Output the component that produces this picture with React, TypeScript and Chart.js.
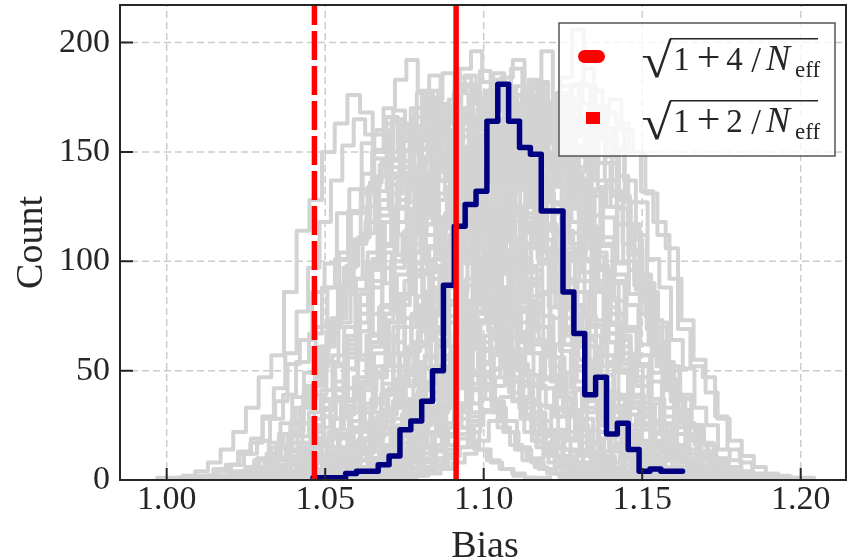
import React, { useEffect, useRef } from 'react';
import { Chart, registerables } from 'chart.js';

Chart.register(...registerables);

// ---------- data ----------
const xTickValues = [1.0, 1.05, 1.1, 1.15, 1.2];
const yTickValues = [0, 50, 100, 150, 200];
const xAxisRange = [0.98527, 1.21429];
const yAxisRange = [0, 217.2];
const xAxisTitle = 'Bias';
const yAxisTitle = 'Count';

const refDashed = 1.0466; // sqrt(1 + 4/N_eff)
const refSolid = 1.0913; // sqrt(1 + 2/N_eff)
const legendNumerators = ['4', '2'];

const navyStart = 1.04615;
const navyWidth = 0.003429;
const navyCounts = [1, 1, 1, 3, 4, 4, 7, 11, 23, 27, 36, 50, 89, 116, 126, 132, 164, 181, 164, 152, 149, 123, 123, 86, 67, 39, 47, 21, 26, 14, 4, 5, 4, 4];

const grayStarts = [
  0.997, 1.01, 1.018, 1.022, 1.025, 1.03, 1.033, 1.037, 1.04, 1.044, 1.048, 1.051, 1.055, 1.058, 1.062, 1.065, 1.075, 1.072, 1.0677, 1.07,
  1.028, 1.046, 1.015, 1.06, 1.02, 1.027, 1.038, 1.042, 1.05, 1.053, 1.057, 1.066, 1.07, 1.034, 1.005, 1.061,
  1.012, 1.024, 1.031, 1.036, 1.041, 1.045, 1.049, 1.052, 1.056, 1.059, 1.063, 1.068, 1.071, 1.064, 1.003, 1.016, 1.029, 1.043, 1.047, 1.054, 1.062, 1.074, 1.033, 1.058,
  1.019, 1.026, 1.039, 1.044, 1.05, 1.057, 1.008, 1.021, 1.035, 1.053, 1.06, 1.046, 1.03, 1.067, 1.014, 1.041,
];
const grayWidths = [
  0.004, 0.0037, 0.0036, 0.0039, 0.0035, 0.0038, 0.0036, 0.004, 0.0035, 0.0037, 0.0039, 0.0036, 0.0038, 0.0035, 0.004, 0.0037, 0.0038, 0.0039, 0.0039, 0.0036,
  0.0036, 0.0038, 0.004, 0.0036, 0.0038, 0.0041, 0.0035, 0.0039, 0.0037, 0.004, 0.0036, 0.0038, 0.0036, 0.0042, 0.0036, 0.004,
  0.0039, 0.0036, 0.004, 0.0037, 0.0034, 0.0041, 0.0036, 0.0039, 0.0035, 0.0038, 0.0036, 0.004, 0.0035, 0.0038, 0.0039, 0.0037, 0.0039, 0.0036, 0.004, 0.0037, 0.0036, 0.0037, 0.0035, 0.0041,
  0.0037, 0.0039, 0.0036, 0.004, 0.0035, 0.0038, 0.0041, 0.0035, 0.0039, 0.0036, 0.0037, 0.0036, 0.0037, 0.0035, 0.0038, 0.0038,
];
const grayCounts = [
  [1, 1, 2, 4, 8, 14, 22, 33, 47, 57, 86, 114, 128, 150, 163, 176, 168, 147, 140, 112, 96, 68, 52, 35, 24, 14, 9, 5, 3, 1, 1],
  [1, 2, 2, 4, 6, 10, 17, 26, 38, 49, 70, 88, 104, 122, 140, 158, 166, 151, 160, 136, 118, 102, 80, 60, 48, 31, 22, 14, 9, 5, 3, 2, 1],
  [1, 1, 3, 5, 9, 15, 22, 36, 50, 67, 88, 110, 131, 150, 170, 183, 192, 178, 185, 160, 141, 122, 98, 76, 57, 40, 28, 18, 11, 6, 4, 2, 1],
  [1, 2, 4, 6, 11, 17, 25, 37, 52, 66, 85, 101, 118, 136, 150, 156, 149, 143, 130, 112, 96, 78, 60, 45, 31, 22, 14, 8, 5, 3, 1],
  [1, 2, 3, 6, 9, 14, 22, 33, 45, 62, 80, 99, 121, 140, 158, 166, 175, 170, 160, 149, 128, 112, 88, 70, 51, 37, 25, 16, 10, 6, 3, 2, 1],
  [1, 2, 4, 7, 12, 19, 28, 42, 57, 76, 97, 118, 140, 158, 174, 186, 177, 180, 162, 146, 124, 102, 81, 62, 45, 31, 20, 13, 7, 4, 2, 1],
  [1, 1, 3, 5, 8, 13, 20, 31, 44, 58, 76, 94, 112, 131, 149, 160, 168, 163, 155, 139, 120, 103, 82, 64, 47, 33, 22, 14, 8, 5, 3, 1],
  [1, 3, 5, 9, 15, 23, 35, 49, 66, 85, 104, 124, 141, 153, 160, 152, 146, 128, 110, 90, 70, 52, 37, 25, 16, 10, 6, 3, 2, 1],
  [1, 2, 3, 6, 10, 16, 25, 37, 52, 70, 91, 113, 136, 156, 174, 188, 196, 182, 186, 168, 147, 125, 101, 79, 59, 42, 28, 18, 11, 6, 3, 2, 1],
  [1, 2, 4, 7, 12, 19, 29, 42, 58, 76, 96, 116, 134, 152, 165, 172, 160, 164, 148, 130, 110, 89, 70, 52, 37, 25, 16, 10, 6, 3, 2, 1],
  [1, 2, 5, 9, 15, 24, 36, 51, 68, 88, 108, 127, 145, 158, 165, 157, 150, 133, 114, 94, 74, 55, 39, 27, 17, 10, 6, 3, 2, 1],
  [1, 2, 3, 6, 10, 16, 25, 37, 52, 70, 90, 112, 133, 152, 170, 181, 188, 176, 172, 155, 134, 113, 91, 71, 52, 37, 25, 16, 10, 5, 3, 1],
  [1, 2, 4, 8, 13, 20, 31, 45, 61, 80, 101, 121, 141, 158, 170, 176, 166, 168, 150, 130, 108, 87, 67, 49, 35, 23, 15, 9, 5, 3, 1],
  [1, 1, 3, 5, 9, 14, 22, 32, 45, 61, 79, 98, 118, 136, 152, 164, 170, 161, 158, 142, 124, 106, 86, 67, 50, 36, 25, 16, 10, 6, 3, 2, 1],
  [1, 3, 6, 10, 17, 26, 38, 53, 70, 89, 108, 125, 140, 151, 155, 147, 139, 121, 102, 83, 64, 47, 33, 22, 14, 8, 5, 3, 1],
  [1, 2, 3, 5, 9, 14, 21, 31, 44, 59, 77, 97, 118, 140, 158, 172, 184, 206, 180, 170, 150, 128, 105, 83, 63, 46, 32, 21, 13, 8, 4, 2, 1],
  [1, 2, 3, 5, 8, 12, 18, 27, 38, 52, 68, 86, 105, 124, 141, 155, 166, 174, 160, 150, 131, 112, 92, 73, 55, 40, 28, 18, 11, 6, 3, 2, 1],
  [1, 2, 4, 7, 12, 19, 29, 42, 58, 77, 97, 117, 135, 150, 161, 165, 158, 148, 130, 110, 90, 70, 52, 37, 25, 16, 10, 6, 3, 2, 1],
  [1, 1, 2, 4, 6, 10, 15, 22, 31, 43, 57, 72, 89, 106, 122, 138, 151, 160, 168, 163, 150, 132, 118, 106, 69, 52, 47, 29, 14, 8, 3, 2, 1, 1, 1],
  [1, 2, 3, 6, 10, 16, 24, 35, 49, 66, 86, 107, 128, 148, 165, 176, 180, 172, 162, 145, 124, 103, 82, 62, 45, 31, 20, 13, 7, 4, 2, 1],
  [1, 2, 4, 7, 12, 19, 29, 42, 58, 76, 97, 118, 138, 156, 170, 178, 168, 171, 152, 132, 110, 88, 68, 50, 35, 23, 15, 9, 5, 3, 1],
  [1, 2, 4, 7, 12, 20, 30, 44, 61, 80, 101, 122, 142, 160, 174, 183, 171, 176, 156, 134, 112, 90, 69, 51, 36, 24, 15, 9, 5, 3, 1],
  [1, 2, 3, 6, 10, 16, 25, 37, 52, 70, 89, 108, 125, 139, 150, 143, 136, 120, 101, 82, 64, 47, 33, 22, 14, 8, 5, 3, 1],
  [1, 2, 3, 5, 9, 14, 21, 31, 44, 59, 77, 96, 115, 133, 148, 158, 162, 155, 150, 134, 116, 98, 79, 61, 45, 32, 21, 13, 8, 4, 2, 1],
  [1, 2, 3, 6, 10, 17, 26, 39, 54, 72, 92, 113, 132, 150, 163, 170, 162, 166, 146, 127, 105, 84, 64, 47, 33, 22, 14, 8, 5, 2, 1],
  [1, 3, 5, 9, 15, 24, 36, 51, 68, 88, 107, 125, 141, 152, 158, 149, 144, 125, 105, 85, 65, 48, 34, 23, 14, 8, 5, 2, 1],
  [1, 1, 3, 5, 9, 14, 22, 33, 47, 64, 83, 104, 126, 146, 163, 177, 185, 172, 178, 160, 139, 118, 96, 75, 56, 40, 27, 17, 10, 6, 3, 1],
  [1, 2, 4, 7, 12, 19, 28, 41, 57, 75, 95, 115, 134, 150, 162, 168, 157, 160, 142, 121, 100, 80, 61, 44, 31, 20, 12, 7, 4, 2, 1],
  [1, 2, 3, 6, 10, 16, 24, 36, 51, 69, 89, 110, 132, 152, 170, 184, 192, 179, 182, 163, 141, 118, 95, 73, 54, 38, 25, 16, 9, 5, 2, 1],
  [1, 3, 5, 9, 15, 24, 36, 51, 68, 88, 108, 127, 143, 155, 160, 151, 145, 127, 106, 86, 66, 48, 34, 23, 14, 8, 4, 2, 1],
  [1, 2, 3, 5, 8, 13, 20, 30, 43, 58, 76, 96, 117, 137, 155, 168, 180, 196, 170, 152, 132, 112, 91, 71, 53, 38, 26, 16, 10, 5, 3, 1],
  [1, 2, 3, 6, 10, 16, 24, 35, 49, 66, 85, 105, 125, 143, 158, 166, 170, 160, 156, 137, 117, 96, 76, 57, 41, 28, 18, 11, 6, 3, 2, 1],
  [1, 2, 3, 5, 9, 14, 21, 31, 44, 60, 79, 99, 120, 141, 160, 175, 181, 188, 171, 160, 139, 117, 94, 73, 54, 38, 25, 16, 9, 5, 2, 1],
  [1, 3, 6, 11, 19, 30, 44, 61, 80, 100, 118, 134, 145, 150, 141, 136, 117, 97, 77, 58, 42, 29, 18, 11, 6, 3, 1],
  [1, 1, 2, 4, 7, 12, 19, 29, 42, 58, 77, 97, 118, 137, 153, 165, 158, 160, 143, 124, 104, 83, 64, 47, 33, 22, 14, 8, 5, 2, 1],
  [1, 2, 4, 8, 13, 21, 32, 46, 63, 82, 102, 122, 140, 156, 167, 172, 160, 152, 133, 111, 90, 70, 52, 37, 25, 16, 9, 5, 3, 1],
  [1, 1, 3, 4, 9, 12, 21, 27, 41, 52, 73, 85, 109, 118, 139, 147, 162, 151, 158, 137, 131, 104, 92, 69, 55, 37, 28, 17, 11, 5, 4, 1],
  [1, 2, 2, 6, 8, 15, 19, 32, 41, 60, 72, 96, 108, 131, 140, 162, 158, 171, 149, 152, 127, 115, 88, 76, 53, 44, 27, 21, 11, 8, 3, 2, 1],
  [2, 3, 7, 9, 17, 22, 36, 47, 66, 79, 103, 114, 137, 141, 158, 149, 153, 129, 118, 94, 81, 58, 46, 29, 22, 12, 8, 4, 2, 1],
  [1, 1, 4, 5, 11, 14, 24, 31, 47, 58, 80, 93, 117, 128, 149, 157, 176, 162, 169, 148, 140, 113, 99, 74, 62, 41, 31, 19, 13, 7, 4, 2, 1],
  [1, 2, 3, 7, 9, 16, 22, 35, 44, 63, 74, 99, 112, 137, 148, 170, 166, 187, 172, 179, 154, 146, 117, 104, 79, 66, 45, 36, 22, 15, 9, 5, 3, 1],
  [1, 3, 5, 10, 14, 25, 33, 50, 63, 86, 98, 122, 131, 150, 152, 161, 144, 139, 116, 104, 80, 66, 45, 34, 21, 14, 8, 4, 2, 1],
  [1, 1, 3, 5, 10, 13, 23, 30, 46, 57, 78, 92, 116, 128, 151, 158, 179, 168, 174, 150, 141, 114, 100, 75, 61, 40, 31, 18, 12, 6, 4, 1],
  [1, 2, 4, 8, 11, 20, 26, 41, 52, 72, 86, 108, 121, 143, 149, 166, 152, 160, 135, 126, 100, 88, 63, 51, 33, 25, 14, 9, 5, 2, 1],
  [1, 2, 2, 6, 8, 14, 19, 31, 40, 57, 69, 92, 105, 130, 140, 163, 158, 182, 164, 170, 145, 136, 109, 96, 71, 58, 39, 30, 18, 12, 6, 4, 2, 1],
  [1, 3, 4, 9, 12, 21, 28, 43, 55, 75, 89, 112, 125, 148, 152, 171, 160, 165, 140, 131, 104, 91, 66, 53, 35, 26, 15, 10, 5, 3, 1],
  [1, 1, 3, 6, 8, 15, 20, 33, 42, 60, 72, 96, 109, 133, 145, 167, 162, 180, 158, 163, 137, 125, 99, 85, 62, 49, 33, 24, 14, 9, 4, 2, 1],
  [1, 2, 5, 8, 14, 20, 32, 42, 60, 73, 95, 108, 130, 138, 155, 150, 158, 134, 125, 100, 87, 62, 50, 32, 24, 13, 8, 4, 2, 1],
  [1, 2, 3, 5, 9, 12, 21, 27, 41, 51, 70, 84, 106, 119, 142, 150, 172, 166, 178, 160, 151, 127, 112, 86, 72, 50, 39, 25, 17, 9, 6, 3, 1],
  [1, 2, 4, 6, 12, 16, 26, 35, 50, 63, 84, 98, 121, 133, 154, 161, 175, 163, 168, 145, 132, 108, 92, 69, 54, 36, 26, 16, 10, 5, 3, 1],
  [1, 2, 2, 5, 7, 13, 17, 28, 36, 53, 64, 86, 99, 122, 133, 154, 150, 163, 146, 141, 117, 106, 82, 68, 48, 37, 24, 16, 9, 6, 3, 1],
  [1, 1, 3, 6, 8, 15, 20, 33, 43, 61, 74, 98, 111, 136, 146, 169, 162, 177, 158, 160, 133, 121, 95, 80, 58, 45, 30, 21, 12, 8, 4, 2, 1],
  [1, 2, 4, 7, 12, 18, 28, 37, 55, 67, 90, 103, 127, 137, 159, 155, 168, 144, 140, 114, 101, 77, 62, 42, 32, 19, 12, 7, 4, 2, 1],
  [1, 1, 2, 5, 7, 12, 17, 27, 35, 51, 62, 84, 96, 121, 132, 157, 154, 174, 156, 165, 140, 131, 104, 92, 67, 54, 37, 28, 16, 11, 5, 3, 1],
  [1, 3, 5, 9, 15, 23, 33, 48, 61, 82, 95, 119, 129, 150, 148, 163, 145, 141, 117, 103, 79, 64, 44, 33, 20, 13, 7, 4, 2, 1],
  [1, 2, 3, 5, 10, 13, 22, 29, 44, 55, 76, 89, 113, 124, 149, 156, 179, 164, 171, 147, 138, 110, 97, 72, 58, 38, 29, 17, 11, 6, 3, 1],
  [1, 2, 3, 7, 9, 16, 22, 35, 45, 64, 76, 101, 113, 139, 147, 171, 160, 174, 150, 148, 121, 108, 82, 69, 47, 37, 23, 16, 9, 5, 2, 1],
  [1, 2, 4, 6, 11, 15, 25, 32, 47, 58, 79, 92, 116, 126, 149, 153, 170, 156, 161, 137, 127, 101, 88, 64, 51, 33, 25, 14, 9, 4, 2, 1],
  [1, 2, 3, 6, 9, 15, 21, 33, 43, 61, 73, 97, 110, 135, 146, 170, 164, 184, 166, 172, 146, 136, 109, 95, 70, 56, 38, 29, 17, 11, 6, 3, 1],
  [1, 3, 6, 10, 17, 24, 37, 48, 67, 80, 102, 113, 135, 139, 156, 148, 150, 126, 115, 90, 76, 55, 43, 27, 19, 11, 6, 3, 1],
  [1, 2, 3, 5, 9, 14, 20, 31, 41, 57, 70, 92, 104, 128, 138, 160, 155, 169, 150, 152, 127, 115, 90, 76, 55, 43, 28, 20, 11, 7, 3, 2, 1],
  [1, 2, 5, 7, 13, 18, 29, 38, 56, 68, 91, 104, 128, 138, 160, 156, 170, 147, 142, 116, 103, 79, 63, 43, 33, 20, 13, 7, 4, 2, 1],
  [1, 1, 3, 6, 8, 14, 19, 31, 40, 58, 70, 94, 106, 131, 142, 166, 160, 178, 157, 162, 137, 126, 99, 86, 62, 50, 33, 25, 14, 9, 4, 2, 1],
  [1, 3, 5, 9, 14, 22, 32, 46, 59, 79, 92, 116, 126, 147, 146, 160, 142, 139, 115, 102, 78, 63, 44, 32, 20, 13, 7, 4, 2, 1],
  [1, 2, 3, 6, 8, 14, 18, 30, 39, 56, 67, 90, 103, 128, 138, 161, 157, 180, 162, 168, 144, 135, 108, 95, 70, 57, 39, 30, 18, 12, 6, 4, 2, 1],
  [1, 2, 4, 6, 11, 16, 25, 34, 49, 61, 82, 96, 119, 131, 152, 159, 173, 161, 166, 143, 130, 107, 91, 68, 53, 35, 26, 16, 10, 5, 3, 1],
  [1, 2, 4, 7, 12, 18, 28, 39, 54, 67, 88, 101, 123, 133, 151, 146, 155, 133, 126, 103, 91, 68, 54, 36, 27, 15, 10, 5, 3, 1],
  [1, 1, 2, 5, 7, 13, 17, 28, 36, 53, 64, 87, 99, 124, 135, 159, 155, 177, 159, 166, 142, 133, 107, 94, 69, 56, 38, 29, 17, 11, 6, 3, 1],
  [1, 2, 4, 8, 12, 19, 27, 41, 52, 72, 85, 108, 120, 142, 148, 165, 151, 158, 133, 123, 98, 85, 62, 49, 32, 23, 13, 8, 4, 2, 1],
  [1, 2, 3, 6, 10, 15, 22, 34, 44, 62, 75, 99, 112, 137, 147, 171, 165, 183, 163, 166, 140, 128, 101, 87, 63, 50, 33, 25, 14, 9, 4, 2, 1],
  [1, 2, 3, 6, 9, 15, 21, 33, 43, 61, 73, 97, 110, 134, 145, 168, 162, 177, 157, 158, 132, 120, 94, 80, 57, 45, 29, 21, 12, 7, 3, 1],
  [1, 1, 3, 5, 9, 13, 21, 28, 43, 54, 75, 88, 112, 124, 148, 155, 176, 166, 172, 149, 140, 114, 100, 76, 61, 41, 31, 19, 12, 7, 3, 1],
  [1, 2, 3, 6, 10, 15, 23, 34, 45, 63, 76, 100, 113, 138, 148, 172, 166, 181, 160, 163, 137, 125, 98, 84, 61, 48, 32, 23, 13, 8, 4, 2, 1],
  [1, 2, 3, 5, 9, 13, 20, 28, 41, 53, 72, 86, 109, 122, 146, 155, 176, 166, 181, 160, 156, 130, 117, 89, 75, 52, 41, 26, 18, 10, 6, 3, 1],
  [1, 2, 3, 6, 9, 15, 21, 33, 43, 61, 74, 97, 110, 134, 144, 165, 158, 170, 148, 146, 120, 107, 82, 68, 47, 36, 22, 15, 8, 5, 2, 1],
  [1, 2, 4, 7, 12, 18, 27, 39, 52, 70, 84, 107, 120, 143, 151, 170, 157, 165, 141, 132, 106, 93, 68, 55, 37, 28, 16, 11, 6, 3, 1],
];

// ---------- styling ----------
const FONT = '"Liberation Serif", "Times New Roman", Times, serif';
const INK = '#262626';
const GRAY = '#d3d3d3';
const NAVY = '#000080';
const RED = '#ff0000';

function stepPoints(start: number, width: number, counts: number[]) {
  const pts = counts.map((c, i) => ({ x: start + i * width, y: c }));
  pts.push({ x: start + counts.length * width, y: counts[counts.length - 1] });
  return pts;
}

function drawSqrtLabel(ctx: CanvasRenderingContext2D, x0: number, base: number, num: string) {
  const rTop = base - 32;
  const rH = 40;
  const rW = 29;
  // radical sign as a text glyph, fitted into its box
  ctx.save();
  ctx.textAlign = 'left';
  ctx.textBaseline = 'alphabetic';
  ctx.font = `40px ${FONT}`;
  const m = ctx.measureText('\u221A');
  const gw = (m.actualBoundingBoxLeft + m.actualBoundingBoxRight) || 20;
  const gh = (m.actualBoundingBoxAscent + m.actualBoundingBoxDescent) || 40;
  ctx.translate(x0, rTop);
  ctx.scale(rW / gw, rH / gh);
  ctx.fillText('\u221A', m.actualBoundingBoxLeft, m.actualBoundingBoxAscent);
  ctx.restore();

  // vinculum
  ctx.save();
  ctx.strokeStyle = INK;
  ctx.lineWidth = 1.6;
  ctx.beginPath();
  ctx.moveTo(x0 + rW - 2, rTop + 0.8);
  ctx.lineTo(x0 + 175, rTop + 0.8);
  ctx.stroke();
  ctx.restore();

  ctx.save();
  ctx.textBaseline = 'alphabetic';
  ctx.textAlign = 'center';
  ctx.font = `33px ${FONT}`;
  ctx.fillText('1', x0 + 38.5, base);
  ctx.font = `42px ${FONT}`;
  ctx.fillText('+', x0 + 65.5, base + 1);
  ctx.font = `33px ${FONT}`;
  ctx.fillText(num, x0 + 91.5, base);
  ctx.font = `35px ${FONT}`;
  ctx.fillText('/', x0 + 113, base + 2);
  ctx.font = `italic 36px ${FONT}`;
  ctx.fillText('N', x0 + 135, base);
  ctx.textAlign = 'left';
  ctx.font = `23px ${FONT}`;
  ctx.fillText('eff', x0 + 152, base + 6.5);
  ctx.restore();
}

const decorPlugin = {
  id: 'decor',
  beforeDatasetsDraw(chart: any) {
    const { ctx, chartArea: a, scales } = chart;
    const sx = scales.x;
    const sy = scales.y;
    ctx.save();
    ctx.strokeStyle = '#cccccc';
    ctx.lineWidth = 1.5;
    ctx.setLineDash([7, 4]);
    ctx.beginPath();
    xTickValues.forEach((v) => {
      const p = sx.getPixelForValue(v);
      ctx.moveTo(p, a.bottom);
      ctx.lineTo(p, a.top);
    });
    yTickValues.forEach((v) => {
      if (v === yAxisRange[0]) return;
      const p = sy.getPixelForValue(v);
      ctx.moveTo(a.left, p);
      ctx.lineTo(a.right, p);
    });
    ctx.stroke();
    ctx.restore();
  },
  afterDatasetsDraw(chart: any) {
    const { ctx, chartArea: a, scales } = chart;
    const sx = scales.x;
    const sy = scales.y;
    ctx.save();
    ctx.setLineDash([]);
    ctx.strokeStyle = INK;
    ctx.lineWidth = 2;
    ctx.strokeRect(a.left, a.top, a.right - a.left, a.bottom - a.top);
    // inward ticks
    ctx.beginPath();
    xTickValues.forEach((v) => {
      const p = sx.getPixelForValue(v);
      ctx.moveTo(p, a.bottom);
      ctx.lineTo(p, a.bottom - 12);
    });
    yTickValues.forEach((v) => {
      const p = sy.getPixelForValue(v);
      ctx.moveTo(a.left, p);
      ctx.lineTo(a.left + 13, p);
    });
    ctx.stroke();

    // axis titles
    ctx.fillStyle = INK;
    ctx.font = `38px ${FONT}`;
    ctx.textAlign = 'center';
    ctx.textBaseline = 'alphabetic';
    ctx.fillText(xAxisTitle, (a.left + a.right) / 2 + 2, 557);
    ctx.save();
    ctx.translate(42, (a.top + a.bottom) / 2);
    ctx.rotate(-Math.PI / 2);
    ctx.fillText(yAxisTitle, 0, 0);
    ctx.restore();

    // legend
    const bx = a.right - 287;
    const by = a.top + 18;
    const bw = 276;
    const bh = 133;
    ctx.fillStyle = 'rgba(255,255,255,0.8)';
    ctx.fillRect(bx, by, bw, bh);
    ctx.strokeStyle = '#555555';
    ctx.lineWidth = 1.5;
    ctx.strokeRect(bx, by, bw, bh);
    ctx.fillStyle = RED;
    // pill marker
    ctx.beginPath();
    const px = bx + 19, py = by + 27, pw = 27, ph = 13, r = 6.5;
    ctx.moveTo(px + r, py);
    ctx.lineTo(px + pw - r, py);
    ctx.arc(px + pw - r, py + r, r, -Math.PI / 2, Math.PI / 2);
    ctx.lineTo(px + r, py + ph);
    ctx.arc(px + r, py + r, r, Math.PI / 2, Math.PI * 1.5);
    ctx.closePath();
    ctx.fill();
    // square marker
    ctx.fillRect(bx + 27, by + 89, 14, 12);

    ctx.fillStyle = INK;
    drawSqrtLabel(ctx, bx + 84, by + 47, legendNumerators[0]);
    drawSqrtLabel(ctx, bx + 84, by + 109, legendNumerators[1]);
    ctx.restore();
  },
};

export default function App() {
  const ref = useRef<HTMLCanvasElement | null>(null);

  useEffect(() => {
    if (!ref.current) return;
    const datasets: any[] = [];
    datasets.push({
      data: [{ x: refSolid, y: yAxisRange[0] }, { x: refSolid, y: yAxisRange[1] }],
      borderColor: RED,
      borderWidth: 5.5,
      pointRadius: 0,
      borderCapStyle: 'butt',
    });
    datasets.push({
      data: [{ x: refDashed, y: yAxisRange[0] }, { x: refDashed, y: yAxisRange[1] }],
      borderColor: RED,
      borderWidth: 5.5,
      borderDash: [29, 6],
      pointRadius: 0,
      borderCapStyle: 'butt',
    });
    datasets.push({
      data: stepPoints(navyStart, navyWidth, navyCounts),
      borderColor: NAVY,
      borderWidth: 5.5,
      stepped: 'before',
      pointRadius: 0,
      borderJoinStyle: 'round',
      borderCapStyle: 'round',
    });
    grayCounts.forEach((counts, i) => {
      datasets.push({
        data: stepPoints(grayStarts[i], grayWidths[i], counts),
        borderColor: GRAY,
        borderWidth: 4,
        stepped: 'before',
        pointRadius: 0,
        borderJoinStyle: 'round',
        borderCapStyle: 'round',
      });
    });

    const chart = new Chart(ref.current, {
      type: 'line',
      data: { datasets },
      options: {
        responsive: false,
        animation: false,
        events: [],
        layout: { padding: { top: 5, right: 1, left: 0, bottom: 0 } },
        plugins: { legend: { display: false }, tooltip: { enabled: false } },
        scales: {
          x: {
            type: 'linear',
            min: xAxisRange[0],
            max: xAxisRange[1],
            afterBuildTicks: (axis: any) => {
              axis.ticks = xTickValues.map((v) => ({ value: v }));
            },
            afterFit: (s: any) => {
              s.height = 80;
              s.paddingLeft = 0;
              s.paddingRight = 0;
              s.paddingTop = 0;
              s.paddingBottom = 0;
            },
            grid: { display: false, drawTicks: false },
            border: { display: false },
            ticks: {
              autoSkip: false,
              maxRotation: 0,
              padding: 0,
              color: INK,
              font: { family: FONT, size: 34 },
              callback: (v: any) => Number(v).toFixed(2),
            },
          },
          y: {
            type: 'linear',
            min: yAxisRange[0],
            max: yAxisRange[1],
            afterBuildTicks: (axis: any) => {
              axis.ticks = yTickValues.map((v) => ({ value: v }));
            },
            afterFit: (s: any) => {
              s.width = 120;
              s.paddingLeft = 0;
              s.paddingRight = 0;
              s.paddingTop = 0;
              s.paddingBottom = 0;
            },
            grid: { display: false, drawTicks: false },
            border: { display: false },
            ticks: {
              autoSkip: false,
              padding: 10,
              color: INK,
              font: { family: FONT, size: 34 },
              callback: (v: any) => String(v),
            },
          },
        },
      },
      plugins: [decorPlugin],
    } as any);
    return () => chart.destroy();
  }, []);

  return (
    <div style={{ position: 'fixed', left: 0, top: 0, width: 847, height: 560, background: '#ffffff' }}>
      <canvas ref={ref} width={847} height={560} style={{ display: 'block', width: 847, height: 560 }} />
    </div>
  );
}
